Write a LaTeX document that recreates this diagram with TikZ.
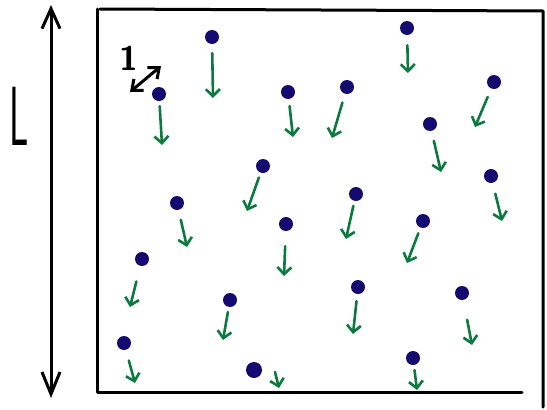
\documentclass[tikz,border=0pt]{standalone}
\usepackage{tikz}
\usetikzlibrary{arrows.meta}
\definecolor{particlenavy}{RGB}{20,10,112}
\definecolor{driftgreen}{RGB}{10,122,62}

\begin{document}
\begin{tikzpicture}[x=1pt, y=-1pt,
    particle/.style={circle, fill=particlenavy, inner sep=0pt, minimum size=14pt},
    drift/.style={draw=driftgreen, line width=2.6pt, line cap=round, line join=round,
        -{Straight Barb[length=7pt,width=14pt]}, shorten <=7pt},
    frame/.style={line width=3pt, line cap=round, line join=round},
    twoway/.style={frame, {Straight Barb[length=9pt,width=15pt]}-{Straight Barb[length=9pt,width=15pt]}}]
    \useasboundingbox (0,0) rectangle (547,410);

    % box and side length
    \draw[frame] (97,9) -- (97,392) -- (522,392);
    \draw[frame] (100,9) -- (543,11) -- (543,407);
    \coordinate (ltop) at (51,5);
    \coordinate (lbot) at (51,398);
    \draw[line width=3pt, {Straight Barb[length=20pt,width=18pt]}-{Straight Barb[length=22pt,width=18pt]}] (ltop) -- (lbot);
    \node[font=\sffamily\fontsize{84}{84}\selectfont, xscale=0.45] (side) at (19,116) {L};

    % unit length
    \coordinate (ua) at (130,92);
    \coordinate (ub) at (161,66);
    \draw[twoway] (ua) -- (ub);
    \node[font=\sffamily\bfseries\fontsize{34}{34}\selectfont] (unit) at (129,58) {1};

    % particles
    \node[particle] (p1) at (212,37) {};
    \node[particle] (p2) at (407,28) {};
    \node[particle] (p3) at (159,94) {};
    \node[particle] (p4) at (288,92) {};
    \node[particle] (p5) at (347,87) {};
    \node[particle] (p6) at (494,82) {};
    \node[particle] (p7) at (430,124) {};
    \node[particle] (p8) at (263,166) {};
    \node[particle] (p9) at (356,194) {};
    \node[particle] (p10) at (491,176) {};
    \node[particle] (p11) at (177,203) {};
    \node[particle] (p12) at (286,224) {};
    \node[particle] (p13) at (423,221) {};
    \node[particle] (p14) at (142,259) {};
    \node[particle] (p15) at (230,300) {};
    \node[particle] (p16) at (358,287) {};
    \node[particle] (p17) at (462,293) {};
    \node[particle] (p18) at (124,343) {};
    \node[particle, minimum size=16pt] (p19) at (254,370) {};
    \node[particle] (p20) at (413,358) {};

    % drift of each particle
    \coordinate (e1) at (213,98);
    \coordinate (e2) at (408,73);
    \coordinate (e3) at (162,145);
    \coordinate (e4) at (293,137);
    \coordinate (e5) at (332,138);
    \coordinate (e6) at (475,127);
    \coordinate (e7) at (441,172);
    \coordinate (e8) at (247,211);
    \coordinate (e9) at (346,239);
    \coordinate (e10) at (502,221);
    \coordinate (e11) at (187,247);
    \coordinate (e12) at (284,276);
    \coordinate (e13) at (407,263);
    \coordinate (e14) at (130,307);
    \coordinate (e15) at (223,340);
    \coordinate (e16) at (353,334);
    \coordinate (e17) at (472,345);
    \coordinate (e18) at (135,383);
    \coordinate (s19) at (275,372);
    \coordinate (e19) at (279,388);
    \coordinate (e20) at (417,390);

    \draw[drift, shorten <=9pt] (p1) -- (e1);
    \draw[drift, shorten <=10pt] (p2) -- (e2);
    \draw[drift, shorten <=5pt] (p3) -- (e3);
    \draw[drift] (p4) -- (e4);
    \draw[drift, shorten <=9pt] (p5) -- (e5);
    \draw[drift, shorten <=9pt] (p6) -- (e6);
    \draw[drift, shorten <=10pt] (p7) -- (e7);
    \draw[drift, shorten <=5pt] (p8) -- (e8);
    \draw[drift, shorten <=5pt] (p9) -- (e9);
    \draw[drift, shorten <=11pt] (p10) -- (e10);
    \draw[drift, shorten <=10pt] (p11) -- (e11);
    \draw[drift, shorten <=15pt] (p12) -- (e12);
    \draw[drift, shorten <=6pt] (p13) -- (e13);
    \draw[drift, shorten <=16pt] (p14) -- (e14);
    \draw[drift, shorten <=5pt] (p15) -- (e15);
    \draw[drift] (p16) -- (e16);
    \draw[drift, shorten <=20pt] (p17) -- (e17);
    \draw[drift, shorten <=11pt] (p18) -- (e18);
    \draw[drift, shorten <=0pt] (s19) -- (e19);
    \draw[drift, shorten <=5pt] (p20) -- (e20);
\end{tikzpicture}
\end{document}
